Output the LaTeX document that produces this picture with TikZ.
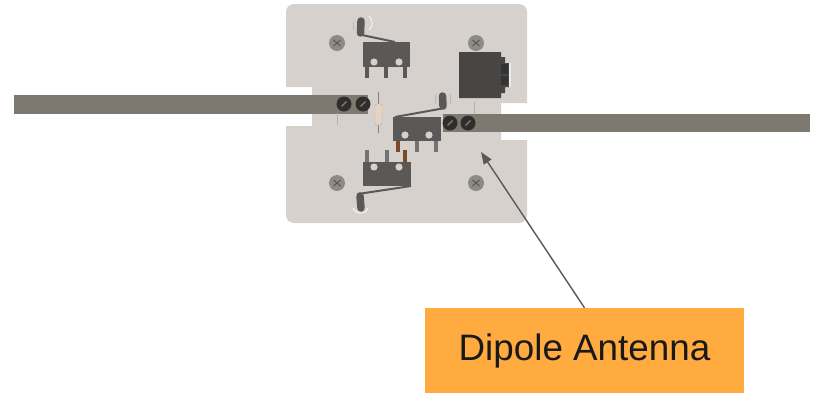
\documentclass[tikz,border=0pt]{standalone}
\usepackage{fontspec}
\setmainfont{Liberation Sans}
\usetikzlibrary{arrows.meta}
\definecolor{plate}{HTML}{D6D1CD}
\definecolor{rod}{HTML}{7E7970}
\definecolor{swt}{HTML}{5A5957}
\definecolor{jack}{HTML}{474644}
\definecolor{greyscrew}{HTML}{8E8B87}
\definecolor{darkscrew}{HTML}{2F2E2D}
\definecolor{lbl}{HTML}{FFAB40}
\definecolor{pointer}{HTML}{595959}
\definecolor{brownpin}{HTML}{7A4A28}
\tikzset{
  pinbar/.style={line width=3.6pt,draw=#1},
  pinbar/.default=swt,
  hole/.style={fill=plate,draw=none},
  lead/.style={draw=#1,line width=1pt},
  lead/.default=gray!60,
  arm/.style={draw=swt,line width=2pt},
  knob/.style={draw=swt,line width=7.5pt,line cap=round},
  halo/.style={draw=#1,line width=.7pt},
  halo/.default=gray!60,
  labelbox/.style={fill=lbl,draw=none,minimum width=319pt,minimum height=85pt,inner sep=0pt,text=black!90,font=\fontsize{36.8}{40}\selectfont},
}
\newcommand{\gscrew}[1]{%
  \fill[greyscrew] #1 circle (8pt);
  \draw[swt,line width=1pt] #1 ++(-3.5,-3) -- ++(7,6) #1 ++(-3.5,3) -- ++(7,-6);
}
\newcommand{\dscrew}[1]{%
  \fill[darkscrew] #1 circle (7.5pt);
  \draw[gray,line width=1.2pt] #1 ++(-2.5,2.5) -- ++(5,-5);
}
\begin{document}
\begin{tikzpicture}[x=1pt,y=-1pt]
\useasboundingbox (0,0) rectangle (825,394);
\fill[white] (0,0) rectangle (825,394);
% plate
\fill[plate,rounded corners=8pt] (286,4) -- (527,4) [sharp corners] -- (527,103) -- (501,103) -- (501,140) -- (527,140) [rounded corners=8pt] -- (527,223) -- (286,223) [sharp corners] -- (286,126) -- (312,126) -- (312,87) -- (286,87) [rounded corners=8pt] -- cycle;
% rods
\fill[rod] (14,95) rectangle (368,114);
\fill[rod] (443,114) rectangle (810,132);
% grey screws
\gscrew{(337,43)}
\gscrew{(476,43)}
\gscrew{(337,183)}
\gscrew{(476,183)}
% dark screws
\dscrew{(344,104)}
\dscrew{(363,104)}
\dscrew{(450,123)}
\dscrew{(468,123)}
% leads
\draw[lead] (337,113) -- (337,125);
\draw[lead] (474,102) -- (474,114);
% resistor
\draw[lead=gray] (378,92) -- (378,133);
\fill[plate!50!brown!50!white,rounded corners=2pt,draw=gray!60,line width=.4pt] (375,104) rectangle (382,125);
% top switch
\draw[halo=white] (369,16) arc[start angle=-50,end angle=50,radius=9];
\draw[halo] (354,22) arc[start angle=200,end angle=160,radius=12];
\draw[knob] (361,21) -- (360.5,33);
\draw[arm] (362,35) -- (395,42);
\fill[swt] (363,42) rectangle (410,67);
\draw[pinbar] (367,67) -- (367,78);
\draw[pinbar] (386,67) -- (386,78);
\draw[pinbar] (405,67) -- (405,78);
\fill[hole] (374,62) circle (3.6pt);
\fill[hole] (399,62) circle (3.6pt);
% centre switch
\draw[halo] (436,94) arc[start angle=200,end angle=160,radius=14];
\draw[halo] (450,94) arc[start angle=-20,end angle=20,radius=14];
\draw[knob] (442.5,96) -- (443,106);
\draw[arm] (395,117) -- (445,108);
\fill[swt] (393,117) rectangle (441,141);
\draw[pinbar=brownpin] (398,141) -- (398,152);
\draw[pinbar=gray!90!black] (417,141) -- (417,152);
\draw[pinbar=gray!90!black] (436,141) -- (436,152);
\fill[hole] (405,135) circle (3.6pt);
\fill[hole] (429,135) circle (3.6pt);
% bottom switch
\draw[halo=white] (353,208) arc[start angle=160,end angle=20,radius=8];
\draw[knob] (360,196) -- (361,208);
\draw[arm] (411,186) -- (358,194);
\fill[swt] (363,162) rectangle (411,186);
\draw[pinbar=gray!90!black] (367,162) -- (367,150);
\draw[pinbar=gray!90!black] (387,162) -- (387,150);
\draw[pinbar=brownpin] (405,162) -- (405,150);
\fill[hole] (374,167) circle (3.6pt);
\fill[hole] (399,167) circle (3.6pt);
% jack
\fill[jack] (459,52) -- (501,52) -- (501,57) -- (505,57) -- (505,63) -- (509,63) -- (509,87) -- (505,87) -- (505,93) -- (501,93) -- (501,98) -- (459,98) -- cycle;
\fill[black!80] (501,64) rectangle (508,74);
\fill[black!80] (501,76) rectangle (508,85);
\fill[white!85!gray] (509,63) rectangle (511,87);
% label and pointer
\node[labelbox] (box) at (584.5,350.5) {\raisebox{-1.5pt}{Dipole Antenna}};
\coordinate (tip) at (481,152);
\draw[pointer,line width=1.4pt,-{Triangle[length=12pt,width=9pt]}] (box.north) -- (tip);
\end{tikzpicture}
\end{document}
